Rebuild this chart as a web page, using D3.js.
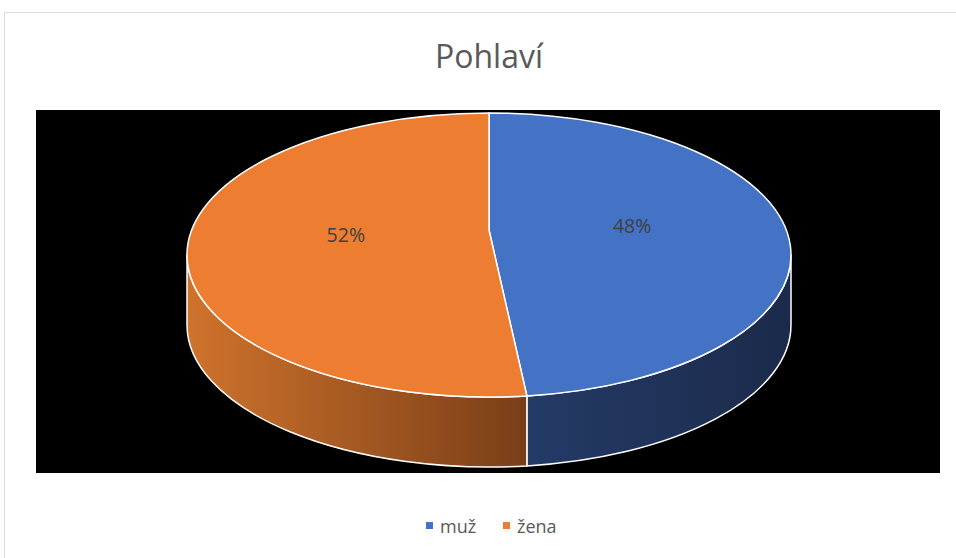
<!DOCTYPE html>
<html>
<head>
<meta charset="utf-8">
<script src="https://cdn.jsdelivr.net/npm/d3@7"></script>
<style>
  body { margin: 0; background: #fff; }
  svg { display: block; }
</style>
</head>
<body>
<div id="chart"></div>
<script>
// data
const categories = ["muž", "žena"]
const values = [48, 52]
const colors = ["#4472C4", "#ED7D31"]
const sideColors = [["#243b67", "#1b2a4a"], ["#cf732c", "#7a3e18"]]
const title = "Pohlaví"

const W = 956, H = 558
const plot = { x: 36, y: 110, w: 904, h: 363 }
const cx = 489, cy = 255, rx = 302, ry = 142, depth = 70
// perspective: the pie's centre shows up above the middle of the ellipse
const apexY = 230

const svg = d3.select("#chart").append("svg")
    .attr("width", W)
    .attr("height", H)

// outer frame
svg.append("rect")
    .attr("x", 4.5).attr("y", 12.5)
    .attr("width", W + 10).attr("height", H + 10)
    .attr("fill", "#fff")
    .attr("stroke", "#d9d9d9")

// black plot area
svg.append("rect")
    .attr("x", plot.x).attr("y", plot.y)
    .attr("width", plot.w).attr("height", plot.h)
    .attr("fill", "#000")

//Top Title
svg.append("text")
    .attr("x", 489)
    .attr("y", 68)
    .attr("text-anchor", "middle")
    .style("font-family", "'Open Sans', sans-serif")
    .style("font-size", "32px")
    .style("fill", "#595959")
    .text(title)

const pie = d3.pie().sort(null).value(d => d)
const arcs = pie(values)

// gradients for the sides
const defs = svg.append("defs")
sideColors.forEach((c, i) => {
    const g = defs.append("linearGradient").attr("id", "side" + i)
    g.append("stop").attr("offset", "0%").attr("stop-color", c[0])
    g.append("stop").attr("offset", "100%").attr("stop-color", c[1])
})

const pt = (a, dy = 0) => [cx + rx * Math.sin(a), cy - ry * Math.cos(a) + dy]

function sidePath(d) {
    const s = Math.max(d.startAngle, Math.PI / 2)
    const e = Math.min(d.endAngle, Math.PI * 1.5)
    if (e <= s) return null
    const p0 = pt(s), p1 = pt(e), q1 = pt(e, depth), q0 = pt(s, depth)
    return `M${p0}A${rx},${ry} 0 0 1 ${p1}L${q1}A${rx},${ry} 0 0 0 ${q0}Z`
}

function topPath(d) {
    const p0 = pt(d.startAngle), p1 = pt(d.endAngle)
    const large = d.endAngle - d.startAngle > Math.PI ? 1 : 0
    return `M${cx},${apexY}L${p0}A${rx},${ry} 0 ${large} 1 ${p1}Z`
}

// sides (front half only)
svg.append("g").selectAll("path")
    .data(arcs.filter(d => sidePath(d)))
    .enter().append("path")
    .attr("d", sidePath)
    .attr("fill", d => `url(#side${d.index})`)
    .attr("stroke", "#fff")
    .attr("stroke-width", 1.5)
    .attr("stroke-linejoin", "round")

// top faces
svg.append("g").selectAll("path")
    .data(arcs)
    .enter().append("path")
    .attr("d", topPath)
    .attr("fill", (d, i) => colors[i])
    .attr("stroke", "#fff")
    .attr("stroke-width", 1.5)
    .attr("stroke-linejoin", "round")

// data labels
const total = d3.sum(values)
const labelR = 0.475
const mid = d => (d.startAngle + d.endAngle) / 2
svg.append("g").selectAll("text")
    .data(arcs)
    .enter().append("text")
    .attr("x", d => cx + labelR * rx * Math.sin(mid(d)))
    .attr("y", d => apexY - labelR * ry * Math.cos(mid(d)))
    .attr("text-anchor", "middle")
    .attr("dominant-baseline", "central")
    .style("font-family", "'Open Sans', sans-serif")
    .style("font-size", "19.5px")
    .style("fill", "#404040")
    .text(d => Math.round(d.value / total * 100) + "%")

// legend
const legend = svg.append("g").attr("transform", "translate(426,533)")
const item = legend.selectAll("g")
    .data(categories)
    .enter().append("g")
    .attr("transform", (d, i) => `translate(${i * 77},0)`)
item.append("rect")
    .attr("x", 0).attr("y", -11)
    .attr("width", 7).attr("height", 7)
    .attr("fill", (d, i) => colors[i])
item.append("text")
    .attr("x", 14)
    .attr("y", 0)
    .style("font-family", "'Open Sans', sans-serif")
    .style("font-size", "18px")
    .style("fill", "#595959")
    .text(d => d)
</script>
</body>
</html>
